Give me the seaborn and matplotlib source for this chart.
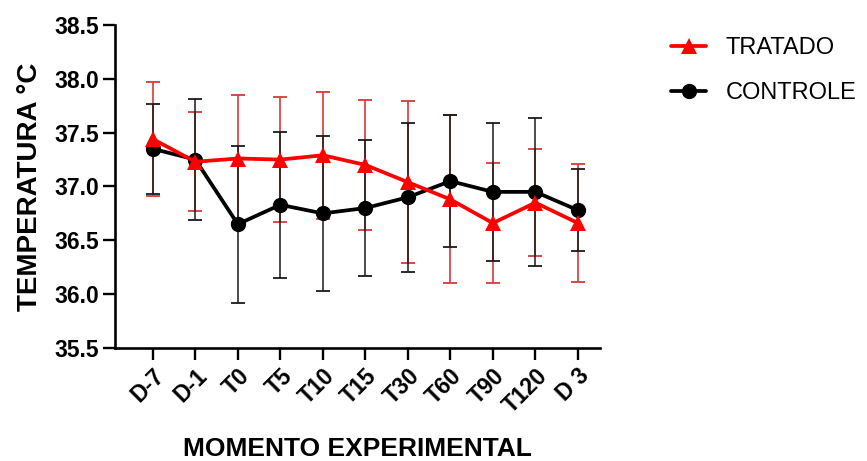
import numpy as np
import pandas as pd
import matplotlib
matplotlib.use("Agg")
import matplotlib.pyplot as plt
import seaborn as sns

momentos = ["D-7", "D-1", "T0", "T5", "T10", "T15", "T30", "T60", "T90", "T120", "D 3"]
tratado_media = [37.44, 37.23, 37.26, 37.25, 37.29, 37.20, 37.04, 36.88, 36.66, 36.85, 36.66]
tratado_dp = [0.53, 0.46, 0.59, 0.58, 0.59, 0.60, 0.75, 0.78, 0.56, 0.50, 0.55]
controle_media = [37.35, 37.25, 36.65, 36.83, 36.75, 36.80, 36.90, 37.05, 36.95, 36.95, 36.78]
controle_dp = [0.42, 0.56, 0.73, 0.68, 0.72, 0.63, 0.69, 0.61, 0.64, 0.69, 0.38]
y_ticks = [35.5, 36.0, 36.5, 37.0, 37.5, 38.0, 38.5]

sns.set_theme(style="ticks")
plt.rcParams["font.family"] = ["Liberation Sans", "DejaVu Sans"]
plt.rcParams["text.color"] = "black"
plt.rcParams["axes.labelcolor"] = "black"
plt.rcParams["xtick.color"] = "black"
plt.rcParams["ytick.color"] = "black"

pos = np.arange(len(momentos))
df = pd.DataFrame({
    "pos": np.concatenate([pos, pos]),
    "temp": tratado_media + controle_media,
    "grupo": ["TRATADO"] * len(pos) + ["CONTROLE"] * len(pos),
})

fig = plt.figure(figsize=(8.67, 4.61), dpi=100)
ax = fig.add_axes([115 / 867, 1 - 348 / 461, (600 - 115) / 867, (348 - 25) / 461])

# error bars
ax.errorbar(pos, tratado_media, yerr=tratado_dp, fmt="none", ecolor="#d83a3a",
            elinewidth=1.2, capsize=5, capthick=1.3, zorder=1)
ax.errorbar(pos, controle_media, yerr=controle_dp, fmt="none", ecolor="#1a1a1a",
            elinewidth=1.1, capsize=5, capthick=1.3, zorder=1)

sns.lineplot(data=df, x="pos", y="temp", hue="grupo", style="grupo",
             hue_order=["CONTROLE", "TRATADO"], style_order=["CONTROLE", "TRATADO"],
             palette={"TRATADO": "#ff0000", "CONTROLE": "#000000"},
             markers={"TRATADO": "^", "CONTROLE": "o"}, dashes=False,
             markersize=11, markeredgewidth=0, linewidth=2.7, ax=ax, legend=True, zorder=3)

handles, labels = ax.get_legend_handles_labels()
hmap = dict(zip(labels, handles))
order = ["TRATADO", "CONTROLE"]
ax.legend([hmap[k] for k in order], order, loc="upper left",
          bbox_to_anchor=(662 / 867, 1 - 28 / 461), bbox_transform=fig.transFigure,
          frameon=False, fontsize=17, handlelength=1.45, handletextpad=0.85,
          labelspacing=0.95, borderaxespad=0)

ax.set_xlim(-0.89, 10.52)
ax.set_ylim(35.5, 38.5)
ax.set_xticks(pos)
ax.set_xticklabels(momentos, rotation=45, ha="right", rotation_mode="anchor",
                   fontsize=16.5, fontweight="bold")
ax.set_yticks(y_ticks)
ax.set_yticklabels([f"{v:.1f}" for v in y_ticks], fontsize=16.5, fontweight="bold")
ax.tick_params(axis="both", length=8.5, width=1.7, color="black", pad=3)
ax.set_xlabel("MOMENTO EXPERIMENTAL", fontsize=19, fontweight="bold", labelpad=14)
ax.set_ylabel("TEMPERATURA °C", fontsize=20, fontweight="bold", labelpad=8)
for s in ["left", "bottom"]:
    ax.spines[s].set_linewidth(1.9)
    ax.spines[s].set_color("black")
sns.despine(ax=ax)

fig.savefig("out.png", dpi=100)
